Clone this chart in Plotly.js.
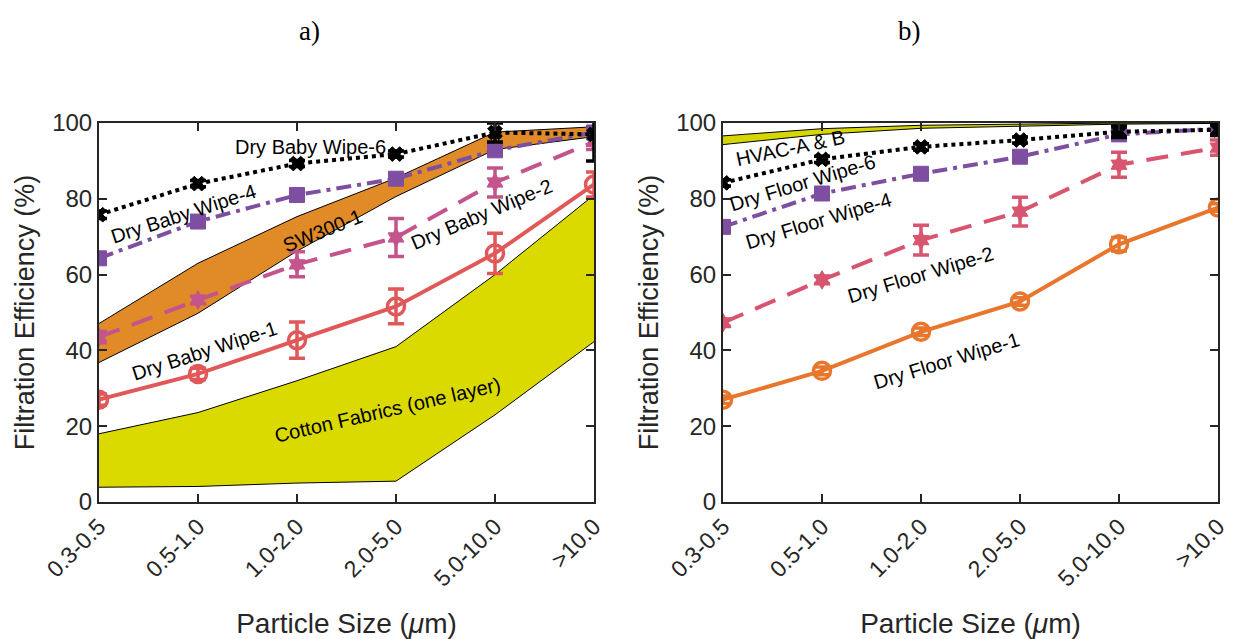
<!DOCTYPE html>
<html>
<head>
<meta charset="utf-8">
<script src="https://cdn.plot.ly/plotly-3.0.1.min.js"></script>
<style>html,body{margin:0;padding:0;background:#fff;}#chart{width:1236px;height:639px;}</style>
</head>
<body>
<div id="chart"></div>
<script>
// ---- data ----
const categories = ['0.3-0.5', '0.5-1.0', '1.0-2.0', '2.0-5.0', '5.0-10.0', '>10.0'];

// panel a) baby wipes
const babyWipe6 = [75.8, 84.0, 89.3, 91.8, 97.5, 97.0];
const babyWipe6Err = [1.0, 0.8, 0.8, 0.8, 2.5, 7.0];
const babyWipe4 = [64.3, 74.0, 81.0, 85.3, 92.8, 97.5];
const babyWipe4Err = [0.8, 0.8, 0.8, 0.8, 1.0, 1.0];
const babyWipe2 = [43.5, 53.3, 62.7, 69.8, 84.3, 95.0];
const babyWipe2Err = [1.5, 1.0, 3.3, 5.0, 3.8, 2.0];
const babyWipe1 = [27.0, 33.8, 42.7, 51.6, 65.6, 83.8];
const babyWipe1Err = [1.5, 1.5, 4.8, 4.6, 5.3, 3.3];
const sw300Upper = [47.1, 63.0, 75.3, 85.5, 97.6, 99.0];
const sw300Lower = [36.8, 49.8, 66.2, 80.6, 93.0, 96.4];
const cottonUpper = [18.0, 23.6, 32.0, 41.0, 60.0, 81.0];
const cottonLower = [3.9, 4.1, 5.0, 5.5, 23.0, 42.3];

// panel b) floor wipes
const floorWipe6 = [84.2, 90.4, 93.7, 95.5, 97.7, 98.2];
const floorWipe6Err = [0.8, 0.8, 0.8, 0.8, 1.5, 1.5];
const floorWipe4 = [72.6, 81.4, 86.6, 91.1, 97.0, 98.5];
const floorWipe4Err = [0.8, 0.8, 0.8, 0.8, 1.5, 1.0];
const floorWipe2 = [47.3, 58.6, 69.1, 76.6, 89.0, 93.5];
const floorWipe2Err = [1.0, 1.0, 3.9, 3.8, 3.3, 2.0];
const floorWipe1 = [27.0, 34.6, 44.9, 52.9, 68.0, 77.7];
const floorWipe1Err = [1.0, 1.0, 1.0, 1.0, 1.8, 1.0];
const hvacUpper = [96.6, 98.5, 99.4, 99.8, 100.0, 100.0];
const hvacLower = [94.3, 97.0, 98.6, 99.2, 99.7, 99.9];

const yTicks = [0, 20, 40, 60, 80, 100];

// ---- styling ----
const W = 1236, H = 639;
const px = x => x / W;
const py = y => 1 - y / H;
const FONT = 'Liberation Sans, Arial, Helvetica, sans-serif';

function band(lower, upper, fill, xa, ya) {
  return [
    {x: categories, y: lower, xaxis: xa, yaxis: ya, mode: 'lines', type: 'scatter',
     line: {color: '#000', width: 1}, hoverinfo: 'skip', showlegend: false},
    {x: categories, y: upper, xaxis: xa, yaxis: ya, mode: 'lines', type: 'scatter',
     fill: 'tonexty', fillcolor: fill, line: {color: '#000', width: 1}, hoverinfo: 'skip', showlegend: false}
  ];
}
function series(y, err, color, dash, symbol, msize, xa, ya, open) {
  return {x: categories, y: y, xaxis: xa, yaxis: ya, type: 'scatter', mode: 'lines+markers',
    line: {color: color, width: 4, dash: dash},
    marker: {color: color, symbol: symbol, size: msize, line: {color: color, width: open ? 3.5 : 1}},
    error_y: {type: 'data', array: err, visible: true, color: color, thickness: 3.5, width: 8},
    showlegend: false};
}

const traces = [].concat(
  band(cottonLower, cottonUpper, '#DADA00', 'x', 'y'),
  band(sw300Lower, sw300Upper, '#E08A28', 'x', 'y'),
  [
    series(babyWipe1, babyWipe1Err, '#E05858', 'solid', 'circle-open', 17, 'x', 'y', true),
    series(babyWipe2, babyWipe2Err, '#C4558C', '22px,13px', 'hexagram', 14, 'x', 'y', false),
    series(babyWipe4, babyWipe4Err, '#7E4FA0', '15px,6px,4px,6px', 'square', 15, 'x', 'y', false),
    series(babyWipe6, babyWipe6Err, '#000000', 'dot', 'x', 13, 'x', 'y', false)
  ],
  band(hvacLower, hvacUpper, '#D6D600', 'x2', 'y2'),
  [
    series(floorWipe1, floorWipe1Err, '#E8762D', 'solid', 'circle-open', 17, 'x2', 'y2', true),
    series(floorWipe2, floorWipe2Err, '#D8556F', '22px,13px', 'hexagram', 14, 'x2', 'y2', false),
    series(floorWipe4, floorWipe4Err, '#7E4FA0', '15px,6px,4px,6px', 'square', 15, 'x2', 'y2', false),
    series(floorWipe6, floorWipe6Err, '#000000', 'dot', 'x', 13, 'x2', 'y2', false)
  ]
);

function xAxis(domain, anchor) {
  return {domain: domain, anchor: anchor, type: 'category', range: [0, 5],
    categoryorder: 'array', categoryarray: categories,
    showline: true, linecolor: '#262626', linewidth: 2, mirror: 'ticks',
    ticks: 'inside', ticklen: 8, tickwidth: 2, tickcolor: '#262626',
    tickangle: -45, tickfont: {family: FONT, size: 23, color: '#262626'},
    showgrid: false, zeroline: false,
    title: {text: 'Particle Size (<i>μ</i>m)', font: {family: FONT, size: 28, color: '#262626'}, standoff: 28}};
}
function yAxis(domain, anchor) {
  return {domain: domain, anchor: anchor, range: [0, 100], tickvals: yTicks,
    showline: true, linecolor: '#262626', linewidth: 2, mirror: 'ticks',
    ticks: 'inside', ticklen: 8, tickwidth: 2, tickcolor: '#262626',
    tickfont: {family: FONT, size: 24, color: '#262626'},
    showgrid: false, zeroline: false,
    title: {text: 'Filtration Efficiency (%)', font: {family: FONT, size: 27, color: '#262626'}, standoff: 10}};
}

function label(text, x, y, angle) {
  return {text: text, x: px(x), y: py(y), xref: 'paper', yref: 'paper', showarrow: false,
    textangle: angle, font: {family: FONT, size: 20, color: '#000'}, xanchor: 'center', yanchor: 'middle'};
}

const annotations = [
  {text: 'a)', x: px(297), y: py(14), xref: 'paper', yref: 'paper', showarrow: false,
   font: {family: 'Liberation Serif, Times New Roman, serif', size: 27, color: '#000'}},
  {text: 'b)', x: px(923), y: py(14), xref: 'paper', yref: 'paper', showarrow: false,
   font: {family: 'Liberation Serif, Times New Roman, serif', size: 27, color: '#000'}},
  label('Dry Baby Wipe-6', 310, 147, 0),
  label('Dry Baby Wipe-4', 183, 214, -18),
  label('SW300-1', 322, 231, -22),
  label('Dry Baby Wipe-2', 482, 214, -23),
  label('Dry Baby Wipe-1', 204, 351, -18),
  label('Cotton Fabrics (one layer)', 387, 410, -13),
  label('HVAC-A & B', 790, 148, -12),
  label('Dry Floor Wipe-6', 802, 183, -17),
  label('Dry Floor Wipe-4', 818, 221, -17),
  label('Dry Floor Wipe-2', 920, 275, -17),
  label('Dry Floor Wipe-1', 946, 361, -17)
];

const layout = {
  width: W, height: H,
  margin: {l: 0, r: 0, t: 0, b: 0},
  paper_bgcolor: '#fff', plot_bgcolor: '#fff',
  showlegend: false,
  xaxis: xAxis([px(99), px(594)], 'y'),
  yaxis: yAxis([py(502), py(123)], 'x'),
  xaxis2: xAxis([px(723), px(1218)], 'y2'),
  yaxis2: yAxis([py(502), py(123)], 'x2'),
  annotations: annotations
};

Plotly.newPlot('chart', traces, layout, {displayModeBar: false, staticPlot: true});
</script>
</body>
</html>
